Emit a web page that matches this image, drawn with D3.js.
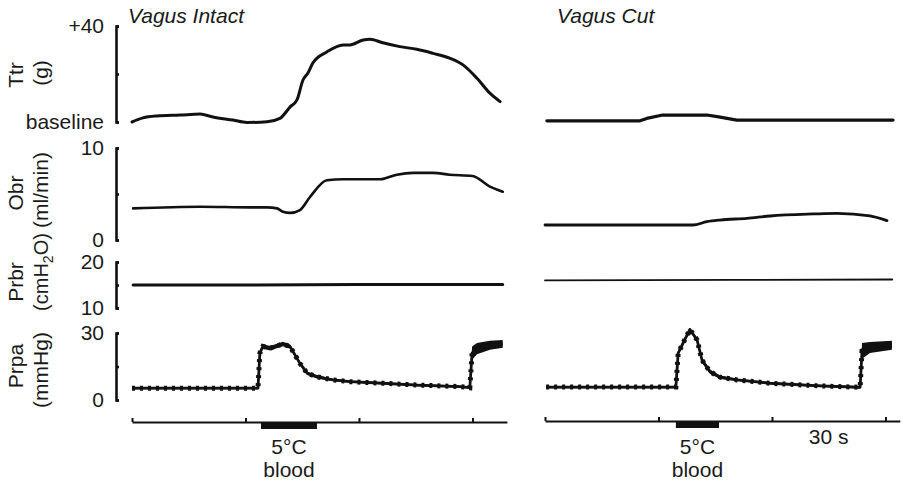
<!DOCTYPE html>
<html>
<head>
<meta charset="utf-8">
<script src="https://cdn.jsdelivr.net/npm/d3@7"></script>
<style>
  html, body { margin: 0; padding: 0; background: #fff; }
  svg { display: block; }
  text { font-family: "Liberation Sans", Arial, sans-serif; fill: #1a1a1a; }
</style>
</head>
<body>
<svg id="chart" width="903" height="484"></svg>
<script>
// ---- Recording data (time in s from start of each record) ----
const panelTitles = ["Vagus Intact", "Vagus Cut"];
const recordDuration = [99.1, 93.8];          // s shown in each record
const timeTicks = [0, 30, 60, 90];             // event-marker ticks every 30 s
const coldBloodIntact = [34.1, 48.9];          // 5 °C blood infusion, s
const coldBloodCut = [34.6, 46.0];

// Ttr – tracheal tension (g above baseline)
const ttrIntactT = [0, 2.9, 6.6, 12.7, 18, 21.4, 26.7, 30.4, 35.7, 39.1, 41.8, 43.6, 45.2, 46.5, 47.8, 51.5, 55.8, 57.6, 61.1, 62.9, 66.3, 70.8, 75.3, 79.6, 84.1, 87.5, 91.2, 94.6, 97.3];
const ttrIntactV = [0, 1.7, 2.5, 2.9, 3.3, 2.1, 0.8, -0.2, 0.1, 1.5, 6.3, 9.2, 17.5, 20.4, 24.6, 29.2, 32.1, 32.1, 34.2, 34.5, 33.0, 31.4, 30.3, 28.6, 26.5, 23.8, 18.2, 12.0, 8.5];
const ttrCutT = [0.5, 25.1, 26.9, 31.1, 42.8, 46.3, 50.7, 92];
const ttrCutV = [0.5, 0.5, 1.5, 2.9, 2.9, 2.0, 0.8, 0.8];

// Obr – bronchial blood flow (ml/min)
const obrIntactT = [0.3, 18, 31.2, 35.7, 38.3, 39.9, 41.8, 44.4, 47.1, 51.5, 55.8, 65.6, 70, 74.3, 79.6, 84, 90, 94.6, 98];
const obrIntactV = [3.44, 3.62, 3.55, 3.55, 3.44, 3.08, 2.95, 3.26, 4.7, 6.5, 6.6, 6.6, 7.1, 7.3, 7.3, 7.1, 6.96, 5.8, 5.25];
const obrCutT = [0, 39.1, 42.8, 46.3, 53.4, 59.5, 70.9, 77.2, 85.9, 90.4];
const obrCutV = [1.63, 1.63, 1.99, 2.17, 2.36, 2.61, 2.83, 2.9, 2.61, 2.1];

// Prbr – bronchial artery perfusion pressure (cmH2O)
const prbrIntactT = [0.3, 30, 60, 98];
const prbrIntactV = [15.0, 15.0, 15.1, 15.1];
const prbrCutT = [0, 50, 91.8];
const prbrCutV = [16.0, 16.1, 16.2];

// Prpa – pulmonary artery pressure (mmHg), mean and pulse (peak-to-peak)
const prpaIntactT = [0, 33.3, 33.8, 34.6, 36.5, 39.9, 41.8, 44.4, 46.3, 48.9, 53.1, 57.6, 66.3, 75.3, 86.7, 89.3, 89.9, 91.2, 94.6, 98];
const prpaIntactV = [5.3, 5.3, 21, 24, 23.2, 25.1, 23.9, 16.4, 12, 10.4, 9.0, 8.2, 7.5, 6.7, 6.0, 5.5, 21, 23, 24.5, 25.1];
const prpaIntactP = [1, 1, 2, 2, 2, 2, 2, 1.5, 1.5, 1.5, 1, 1, 1, 1, 1, 1, 6, 5, 4, 3.5];
const prpaCutT = [0.3, 34.6, 35.2, 36.5, 38.3, 40.2, 41.5, 43.6, 46.3, 50.8, 59.5, 72.7, 83.3, 83.8, 85.9, 91.7];
const prpaCutV = [5.8, 5.8, 21, 25.5, 31.6, 26.9, 17.9, 12.7, 10.2, 9.0, 7.5, 6.3, 5.7, 22, 23.5, 24.5];
const prpaCutP = [1, 1, 2, 2, 1.5, 2, 2.5, 2, 1.5, 1, 1, 1, 1, 7, 5, 4];

// Calibration tick values and their labels
const ttrTicks = [0, 20, 40], ttrTickText = ["baseline", "", "+40"];
const obrTicks = [0, 5, 10], obrTickText = ["0", "", "10"];
const prbrTicks = [10, 15, 20], prbrTickText = ["10", "", "20"];
const prpaTicks = [0, 15, 30], prpaTickText = ["0", "", "30"];

// ---- Layout ----
const svg = d3.select("#chart");
const FS = 21;
const pxPerSec = 3.783;
const xL = d3.scaleLinear().domain([0, recordDuration[0]]).range([132, 132 + recordDuration[0] * pxPerSec]);
const xR = d3.scaleLinear().domain([0, recordDuration[1]]).range([545, 545 + recordDuration[1] * pxPerSec]);

const yTtr = d3.scaleLinear().domain([0, 40]).range([122, 26]);
const yObr = d3.scaleLinear().domain([0, 10]).range([240, 148]);
const yPrbr = d3.scaleLinear().domain([10, 20]).range([308, 262]);
const yPrpa = d3.scaleLinear().domain([0, 30]).range([400, 333]);

const axisX = 116;

// Calibration brackets with labels on the left
function bracket(scale, ticks, texts) {
  const ax = d3.axisLeft(scale)
    .tickValues(ticks)
    .tickSizeInner(-3)
    .tickSizeOuter(-3)
    .tickPadding(12)
    .tickFormat((d, i) => texts[i]);
  const g = svg.append("g").attr("transform", `translate(${axisX},0)`).call(ax);
  g.select(".domain").attr("stroke", "#111").attr("stroke-width", 2.6).attr("fill", "none");
  g.selectAll(".tick line").attr("stroke", "#111").attr("stroke-width", 2.6);
  g.selectAll(".tick text")
    .attr("font-size", FS)
    .attr("font-family", '"Liberation Sans", Arial, sans-serif')
    .attr("fill", "#1a1a1a");
}
bracket(yTtr, ttrTicks, ttrTickText);
bracket(yObr, obrTicks, obrTickText);
bracket(yPrbr, prbrTicks, prbrTickText);
bracket(yPrpa, prpaTicks, prpaTickText);

// Channel names (rotated)
function vlabel(x, cy, content, size) {
  const t = svg.append("text")
    .attr("transform", `translate(${x},${cy}) rotate(-90)`)
    .attr("text-anchor", "middle")
    .attr("font-size", size || FS);
  content(t);
}
vlabel(23, 75, t => t.text("Ttr"));
vlabel(48, 73, t => t.text("(g)"));
vlabel(23, 193, t => t.text("Obr"));
vlabel(48, 190, t => t.text("(ml/min)"));
vlabel(23, 282, t => t.text("Prbr"));
vlabel(48, 272, t => {
  t.append("tspan").text("(cmH");
  t.append("tspan").attr("font-size", 14).attr("dy", 5).text("2");
  t.append("tspan").attr("dy", -5).text("O)");
}, 20);
vlabel(23, 366, t => t.text("Prpa"));
vlabel(48, 370, t => t.text("(mmHg)"));

// Panel titles
svg.append("text").attr("x", 128).attr("y", 23).attr("font-size", FS).attr("font-style", "italic").text(panelTitles[0]);
svg.append("text").attr("x", 557).attr("y", 23).attr("font-size", FS).attr("font-style", "italic").text(panelTitles[1]);

// ---- Traces ----
function trace(x, y, T, V, width, curve) {
  const pts = T.map((t, i) => [t, V[i]]);
  svg.append("path")
    .datum(pts)
    .attr("fill", "none")
    .attr("stroke", "#111")
    .attr("stroke-width", width)
    .attr("stroke-linejoin", "round")
    .attr("stroke-linecap", "round")
    .attr("d", d3.line().x(d => x(d[0])).y(d => y(d[1])).curve(curve || d3.curveMonotoneX));
}

trace(xL, yTtr, ttrIntactT, ttrIntactV, 3);
trace(xR, yTtr, ttrCutT, ttrCutV, 3.2, d3.curveLinear);
trace(xL, yObr, obrIntactT, obrIntactV, 2.6);
trace(xR, yObr, obrCutT, obrCutV, 2.8);
trace(xL, yPrbr, prbrIntactT, prbrIntactV, 3, d3.curveLinear);
trace(xR, yPrbr, prbrCutT, prbrCutV, 1.8, d3.curveLinear);

// Pulmonary artery pressure: pulsatile band around the mean, with beat ripple
function pressure(x, T, V, P) {
  const pts = T.map((t, i) => ({ t, v: V[i], p: P[i] }));
  svg.append("path")
    .datum(pts)
    .attr("fill", "#111")
    .attr("d", d3.area()
      .x(d => x(d.t))
      .y0(d => yPrpa(d.v - d.p / 2))
      .y1(d => yPrpa(d.v + d.p / 2)));
  const line = d3.line().x(d => x(d.t)).y(d => yPrpa(d.v));
  svg.append("path").datum(pts)
    .attr("fill", "none").attr("stroke", "#111").attr("stroke-width", 2.8)
    .attr("stroke-linejoin", "round").attr("d", line);
  // beat-to-beat ripple
  svg.append("path").datum(pts)
    .attr("fill", "none").attr("stroke", "#111").attr("stroke-width", 5)
    .attr("stroke-dasharray", "3,5").attr("d", line);
}
pressure(xL, prpaIntactT, prpaIntactV, prpaIntactP);
pressure(xR, prpaCutT, prpaCutV, prpaCutP);

// ---- Time / event marker ----
function timeline(x, yLine, cold) {
  const ax = d3.axisTop(x).tickValues(timeTicks).tickSizeInner(4).tickSizeOuter(0).tickFormat("");
  const g = svg.append("g").attr("transform", `translate(0,${yLine})`).call(ax);
  g.select(".domain").attr("stroke", "#111").attr("stroke-width", 2.2);
  g.selectAll(".tick line").attr("stroke", "#111").attr("stroke-width", 2);
  svg.append("rect")
    .attr("x", x(cold[0])).attr("y", yLine)
    .attr("width", x(cold[1]) - x(cold[0])).attr("height", 7)
    .attr("fill", "#111");
  const cx = (x(cold[0]) + x(cold[1])) / 2;
  svg.append("text").attr("x", cx).attr("y", 454).attr("text-anchor", "middle").attr("font-size", FS).text("5°C");
  svg.append("text").attr("x", cx).attr("y", 477).attr("text-anchor", "middle").attr("font-size", FS).text("blood");
}
timeline(xL, 422, coldBloodIntact);
timeline(xR, 421, coldBloodCut);

// 30 s scale label between the last two ticks of the second record
svg.append("text")
  .attr("x", (xR(60) + xR(90)) / 2).attr("y", 444)
  .attr("text-anchor", "middle").attr("font-size", FS).text("30 s");
</script>
</body>
</html>
